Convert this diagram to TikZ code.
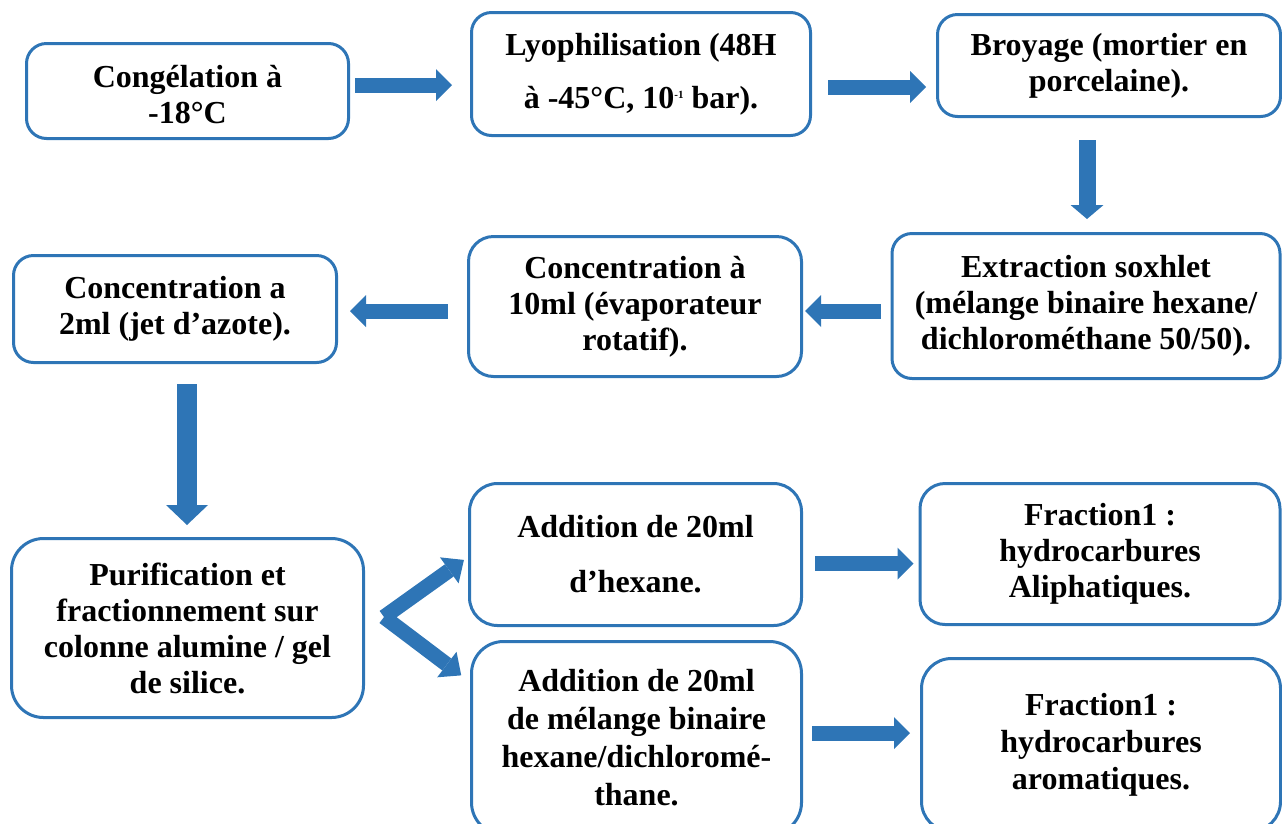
\documentclass[tikz,border=0pt]{standalone}
\usepackage{fontspec}
\setmainfont{Liberation Serif}
\usetikzlibrary{arrows.meta}
\definecolor{flowblue}{RGB}{46,117,182}
\tikzset{
	stage/.style={draw=flowblue, line width=3pt, rounded corners=20pt, fill=white, align=center, inner sep=0pt,
		font=\fontsize{32}{36}\selectfont\bfseries},
	flow/.style={draw=flowblue, line width=15pt, -{Triangle[length=16pt,width=32pt,line width=0pt]}},
}

\begin{document}
\begin{tikzpicture}[x=1pt,y=-1pt]
		\useasboundingbox (0,0) rectangle (1282,823);
		% premiere ligne
		\node[stage, minimum width=322pt, minimum height=95pt] (congel) at (187.5,91) {\raisebox{-7pt}[\height][\depth]{\begin{tabular}{@{}c@{}}Congélation à\\-18°C\end{tabular}}};
		\node[stage, minimum width=339pt, minimum height=123pt] (lyoph) at (641,74) {Lyophilisation (48H\\[17pt]à -45°C, 10\raisebox{10pt}{\fontsize{11}{11}\selectfont -1} bar).};
		\node[stage, minimum width=343pt, minimum height=102pt] (broyage) at (1109,65.5) {Broyage (mortier en\\porcelaine).};
		% deuxieme ligne
		\node[stage, minimum width=388pt, minimum height=145pt] (soxhlet) at (1086,306) {Extraction soxhlet\\(mélange binaire hexane/\\dichlorométhane 50/50).};
		\node[stage, minimum width=333pt, minimum height=140pt, rounded corners=25pt] (conc10) at (635,306.5) {Concentration à\\10ml (évaporateur\\rotatif).};
		\node[stage, minimum width=323pt, minimum height=107pt] (conc2) at (175,309) {Concentration a\\2ml (jet d’azote).};
		% fractionnement
		\node[stage, minimum width=352pt, minimum height=179pt, rounded corners=32pt] (purif) at (187.5,628) {Purification et\\fractionnement sur\\colonne alumine / gel\\de silice.};
		\node[stage, minimum width=332pt, minimum height=142pt, rounded corners=28pt] (addhex) at (635.5,554.5) {Addition de 20ml\\[19pt]d’hexane.};
		\node[stage, minimum width=330pt, minimum height=193pt, rounded corners=32pt, font=\fontsize{32}{38}\selectfont\bfseries] (addmix) at (636.5,738) {Addition de 20ml\\de mélange binaire\\hexane/dichloromé-\\thane.};
		\node[stage, minimum width=360pt, minimum height=141pt, rounded corners=25pt] (frac1) at (1100,554) {Fraction1 :\\hydrocarbures\\Aliphatiques.};
		\node[stage, minimum width=359pt, minimum height=173pt, rounded corners=30pt, font=\fontsize{32}{37}\selectfont\bfseries] (frac2) at (1101,745) {Fraction1 :\\hydrocarbures\\aromatiques.};
		
		\draw[flow, shorten <=5pt, shorten >=18pt] (congel.east |- 0,85) -- (lyoph.west |- 0,85);
		\draw[flow, shorten <=16pt, shorten >=10pt] (lyoph.east |- 0,87) -- (broyage.west |- 0,87);
		\draw[flow, line width=17pt, -{Triangle[length=14pt,width=33pt,line width=0pt]}, shorten <=22pt, shorten >=13pt] (1087,0 |- broyage.south) -- (1087,0 |- soxhlet.north);
		\draw[flow, shorten <=10pt, shorten >=2pt] (soxhlet.west |- 0,311) -- (conc10.east |- 0,311);
		\draw[flow, shorten <=19pt, shorten >=12pt] (conc10.west |- 0,311) -- (conc2.east |- 0,311);
		\draw[flow, line width=20pt, -{Triangle[length=20pt,width=42pt,line width=0pt]}, shorten <=20pt, shorten >=12pt] (187,0 |- conc2.south) -- (187,0 |- purif.north);
		
		\coordinate (split) at (384,617);
		\draw[flow, -{Triangle[length=18pt,width=32pt,line width=0pt]}, shorten >=5pt] (split) -- (addhex.west |- 0,557);
		\draw[flow, -{Triangle[length=18pt,width=32pt,line width=0pt]}, shorten >=11pt] (split) -- (addmix.west |- 0,682);
		\draw[flow, shorten <=12pt, shorten >=5pt] (addhex.east |- 0,563.5) -- (frac1.west |- 0,563.5);
		\draw[flow, shorten <=9pt, shorten >=10pt] (addmix.east |- 0,733) -- (frac2.west |- 0,733);
	\end{tikzpicture}
\end{document}
